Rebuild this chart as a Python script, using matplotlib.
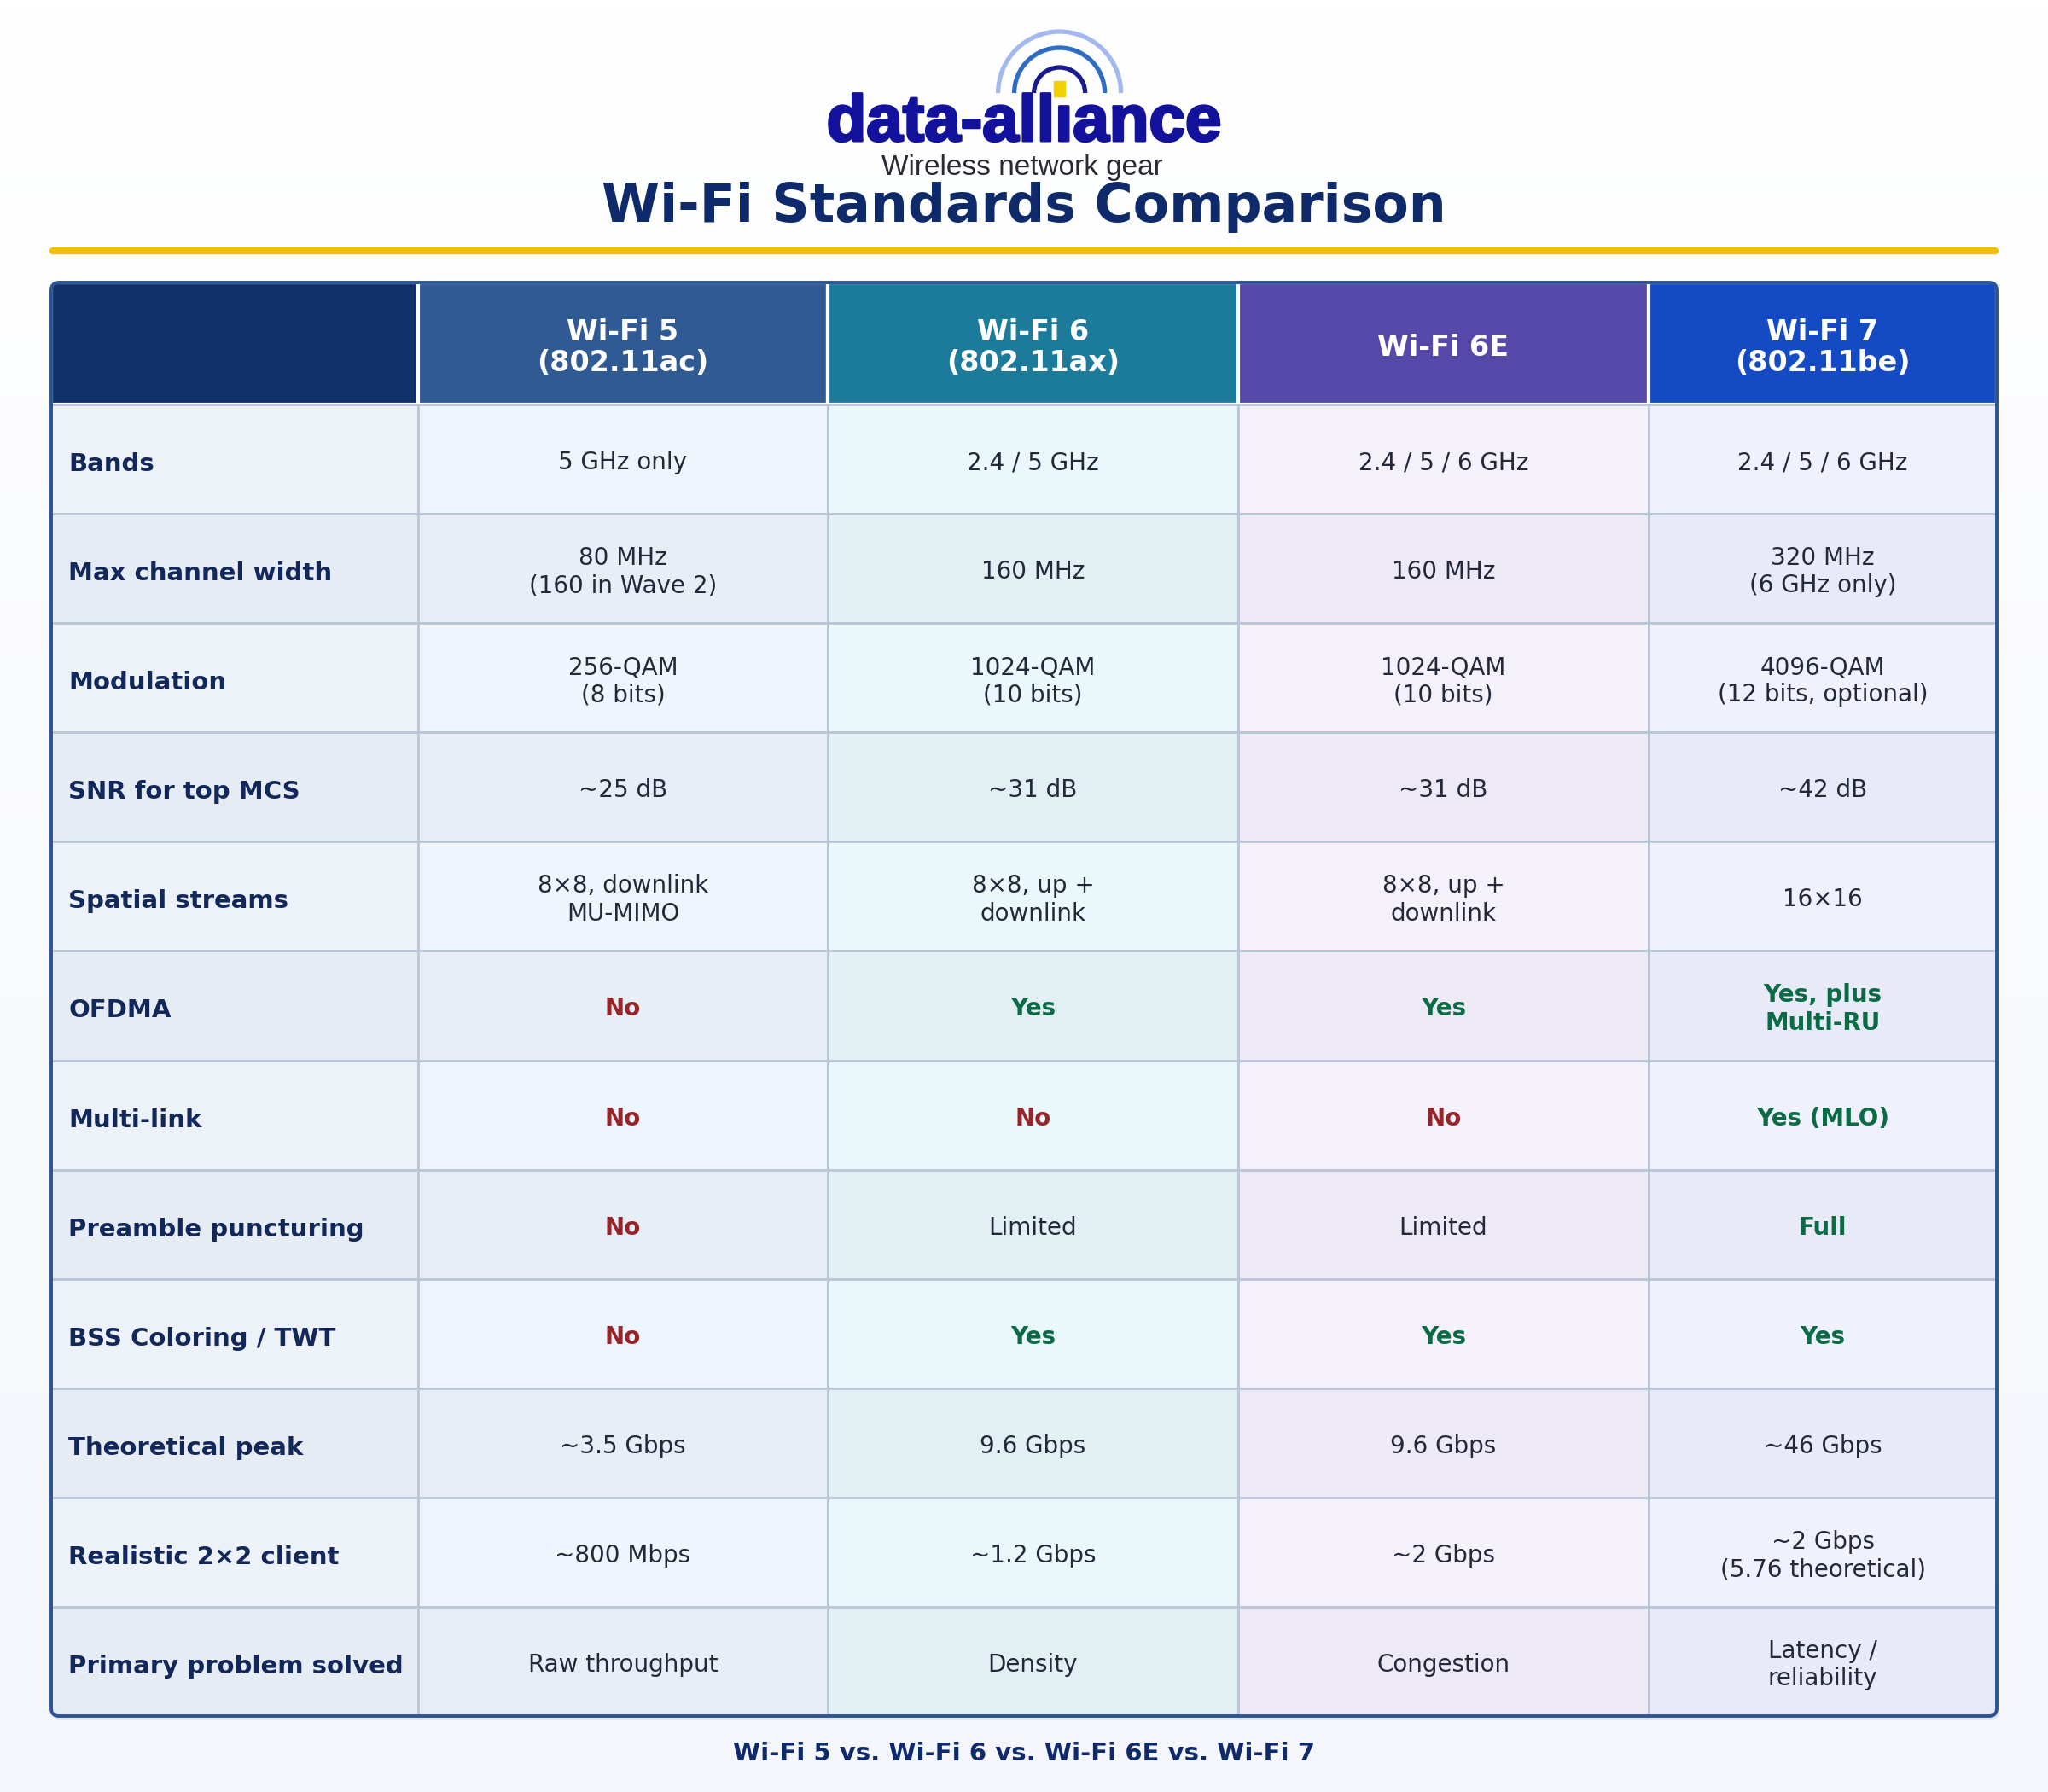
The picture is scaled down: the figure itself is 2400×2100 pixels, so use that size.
import numpy as np
import matplotlib
matplotlib.use('Agg')
import matplotlib.pyplot as plt
import matplotlib.patheffects as pe
from matplotlib.patches import Rectangle, FancyBboxPatch, Arc

# table content
standards = ['Wi-Fi 5\n(802.11ac)', 'Wi-Fi 6\n(802.11ax)', 'Wi-Fi 6E', 'Wi-Fi 7\n(802.11be)']
features = ['Bands', 'Max channel width', 'Modulation', 'SNR for top MCS', 'Spatial streams',
            'OFDMA', 'Multi-link', 'Preamble puncturing', 'BSS Coloring / TWT',
            'Theoretical peak', 'Realistic 2×2 client', 'Primary problem solved']
wifi5 = ['5 GHz only', '80 MHz\n(160 in Wave 2)', '256-QAM\n(8 bits)', '~25 dB', '8×8, downlink\nMU-MIMO',
         'No', 'No', 'No', 'No', '~3.5 Gbps', '~800 Mbps', 'Raw throughput']
wifi6 = ['2.4 / 5 GHz', '160 MHz', '1024-QAM\n(10 bits)', '~31 dB', '8×8, up +\ndownlink',
         'Yes', 'No', 'Limited', 'Yes', '9.6 Gbps', '~1.2 Gbps', 'Density']
wifi6e = ['2.4 / 5 / 6 GHz', '160 MHz', '1024-QAM\n(10 bits)', '~31 dB', '8×8, up +\ndownlink',
          'Yes', 'No', 'Limited', 'Yes', '9.6 Gbps', '~2 Gbps', 'Congestion']
wifi7 = ['2.4 / 5 / 6 GHz', '320 MHz\n(6 GHz only)', '4096-QAM\n(12 bits, optional)', '~42 dB', '16×16',
         'Yes, plus\nMulti-RU', 'Yes (MLO)', 'Full', 'Yes', '~46 Gbps', '~2 Gbps\n(5.76 theoretical)',
         'Latency /\nreliability']
columns = [wifi5, wifi6, wifi6e, wifi7]

title = 'Wi-Fi Standards Comparison'
footer = 'Wi-Fi 5 vs. Wi-Fi 6 vs. Wi-Fi 6E vs. Wi-Fi 7'

# colours
head_colors = ['#0f3068', '#305a93', '#1c7b9a', '#5648a8', '#144ac4']
body_odd = ['#edf2f9', '#eff5fc', '#ebf8fb', '#f4f1fb', '#eff2fd']
body_even = ['#e6ecf4', '#e8eef6', '#e3f0f3', '#ede9f5', '#e8ebf7']
navy = '#0f2a6b'
green = '#0b6b45'
red = '#962428'
grid = '#b9c5d8'

W, H = 2400, 2100
fig = plt.figure(figsize=(24, 21), dpi=100)
ax = fig.add_axes([0, 0, 1, 1])
ax.set_xlim(0, W)
ax.set_ylim(H, 0)
ax.axis('off')

# background gradient
grad = np.linspace(0, 1, 256).reshape(-1, 1)
top = np.array([1.0, 1.0, 1.0])
bot = np.array([0xf4, 0xf6, 0xfc]) / 255
img = top + grad[..., None] * (bot - top)
img = np.repeat(img, 2, axis=1)
ax.imshow(img, extent=[0, W, H, 0], aspect='auto', zorder=0)

# ---- logo ----
fig.canvas.draw()
renderer = fig.canvas.get_renderer()
logo_kw = dict(fontsize=55, fontweight='bold', family='Liberation Sans', color='#12129c')
logo = ax.text(1200, 165, 'data-allıance', ha='center', va='baseline', zorder=5,
               path_effects=[pe.withStroke(linewidth=2.2, foreground='#12129c')], **logo_kw)
bb = logo.get_window_extent(renderer)
tmp = ax.text(0, 0, 'data-all', **logo_kw)
w_pre = tmp.get_window_extent(renderer).width
tmp.remove()
tmp = ax.text(0, 0, 'data-allı', **logo_kw)
w_i = tmp.get_window_extent(renderer).width
tmp.remove()
ix = bb.x0 + (w_pre + w_i) / 2 - 5
ax.add_patch(Rectangle((ix - 6.5, 95), 13, 18, color='#f2d000', zorder=6))
for r, c in [(72, '#a3b8ee'), (53, '#2f6cc4'), (30, '#1a1a8e')]:
    ax.add_patch(Arc((ix, 109), 2 * r, 2 * r, theta1=180, theta2=360, color=c, lw=3.8, zorder=5))
ax.text(1198, 197, 'Wireless network gear', ha='center', va='center', fontsize=24,
        family='Liberation Sans', color='#2a2a35', zorder=5)

# title + rule
ax.text(W / 2, 243, title, ha='center', va='center', fontsize=44.5, fontweight='bold', color=navy)
ax.plot([62, 2338], [294, 294], color='#f0bf00', lw=6, solid_capstyle='round')

# ---- table ----
xs = [60, 490, 970, 1451, 1932, 2340]
y_top, y_head, y_bot = 331, 474, 2011
row_h = (y_bot - y_head) / len(features)

shadow = FancyBboxPatch((xs[0] + 2, y_top + 5), xs[-1] - xs[0], y_bot - y_top,
                        boxstyle='round,pad=0,rounding_size=9', fc='#1a2a50', ec='none',
                        alpha=0.08, zorder=1)
ax.add_patch(shadow)
frame = FancyBboxPatch((xs[0], y_top), xs[-1] - xs[0], y_bot - y_top,
                       boxstyle='round,pad=0,rounding_size=9', fc='white', ec='none', zorder=1)
ax.add_patch(frame)

# header
for j in range(5):
    cell = Rectangle((xs[j], y_top), xs[j + 1] - xs[j], y_head - y_top, fc=head_colors[j],
                     ec='white', lw=3, zorder=2)
    ax.add_patch(cell)
    cell.set_clip_path(frame)
    if j > 0:
        ax.text((xs[j] + xs[j + 1]) / 2, (y_top + y_head) / 2 + 5, standards[j - 1], ha='center',
                va='center', fontsize=24, fontweight='bold', color='white', linespacing=1.1, zorder=4)

# body
for i, feat in enumerate(features):
    y0 = y_head + i * row_h
    cy = y0 + row_h / 2
    fills = body_odd if i % 2 == 0 else body_even
    for j in range(5):
        cell = Rectangle((xs[j], y0), xs[j + 1] - xs[j], row_h, fc=fills[j], ec=grid, lw=2, zorder=2)
        ax.add_patch(cell)
        cell.set_clip_path(frame)
    ax.text(xs[0] + 20, cy + 6, feat, ha='left', va='center', fontsize=21, fontweight='bold',
            color='#13285a', zorder=4)
    for j, col in enumerate(columns):
        val = col[i]
        cx = (xs[j + 1] + xs[j + 2]) / 2
        if val.startswith('Yes') or val == 'Full':
            kw = dict(fontweight='bold', color=green)
        elif val == 'No':
            kw = dict(fontweight='bold', color=red)
        else:
            kw = dict(color='#23283a')
        ax.text(cx, cy + 4, val, ha='center', va='center', fontsize=20, linespacing=1.2, zorder=4, **kw)

border = FancyBboxPatch((xs[0], y_top), xs[-1] - xs[0], y_bot - y_top,
                        boxstyle='round,pad=0,rounding_size=9', fc='none', ec='#2c5494', lw=2.8, zorder=5)
ax.add_patch(border)

ax.text(W / 2, 2055, footer, ha='center', va='center', fontsize=21, fontweight='bold', color=navy)

fig.savefig('out.png', dpi=100)
